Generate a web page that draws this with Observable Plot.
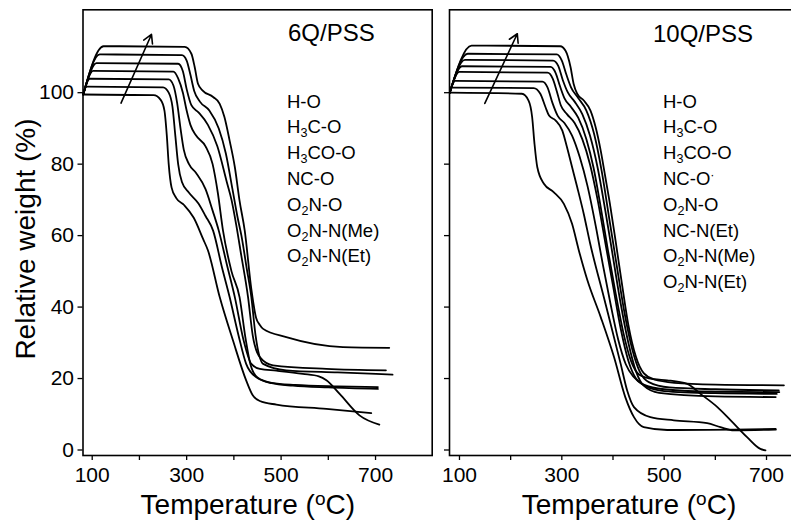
<!DOCTYPE html>
<html><head><meta charset="utf-8">
<script src="https://cdn.jsdelivr.net/npm/d3@7"></script>
<script src="https://cdn.jsdelivr.net/npm/@observablehq/plot@0.6"></script>
<style>
html,body{margin:0;padding:0;background:#fff;overflow:hidden}
#wrap{position:relative;width:791px;height:522px;overflow:hidden;font-family:"Liberation Sans",Arial,Helvetica,sans-serif;color:#000}
.panel{position:absolute;top:0}
.lbl{position:absolute;white-space:nowrap;line-height:1}
.lbl sub{font-size:0.68em;vertical-align:-0.28em;line-height:0}
.lbl sup{font-size:0.68em;vertical-align:0.45em;line-height:0}
</style></head>
<body><div id="wrap"></div>
<script>
// ---- tick values ----
const tempTicks = [100, 200, 300, 400, 500, 600, 700];
const weightTicks = [0, 20, 40, 60, 80, 100];

// ---- titles / legends ----
const titleLeft = "6Q/PSS";
const titleRight = "10Q/PSS";
const labelsLeft = ["H-O", "H<sub>3</sub>C-O", "H<sub>3</sub>CO-O", "NC-O", "O<sub>2</sub>N-O", "O<sub>2</sub>N-N(Me)", "O<sub>2</sub>N-N(Et)"];
const labelsRight = ["H-O", "H<sub>3</sub>C-O", "H<sub>3</sub>CO-O", "NC-O<sup>·</sup>", "O<sub>2</sub>N-O", "NC-N(Et)", "O<sub>2</sub>N-N(Me)", "O<sub>2</sub>N-N(Et)"];
const xTitle = "Temperature (<sup>o</sup>C)";
const yTitle = "Relative weight (%)";

// ---- 6Q/PSS curves [temperature °C, relative weight %] (curves vertically offset) ----
const left1 = [[81,99.5],[230,99.3],[245,98],[253,95],[258,88],[262,80],[268,73.5],[278,70.5],[295,68.5],[315,65],[335,59],[345,55.9],[370,42.8],[398,30.7],[426,19.5],[440,15.3],[455,13.7],[490,12.7],[596,11.5],[691,10.3]];
const left2 = [[81,99.5],[88,101.7],[250,101.5],[262,100],[270,96],[276,88],[282,80],[290,75],[305,72],[325,69],[340,65.5],[356,61.4],[375,51],[391,42.8],[410,32],[426,24.1],[447,20.4],[480,18.7],[525,18],[600,17.5],[705,17.1]];
const left3 = [[81,99.5],[95,103.9],[262,103.7],[272,102],[280,97],[287,90],[294,84],[305,80],[320,77.5],[340,73],[355,67],[368,61.4],[385,52],[402,42.8],[420,31],[437,24.1],[455,22.7],[490,22.2],[546,21.3],[580,20.6],[596,19.5],[624,15.7],[666,9.7],[708,7.1]];
const left4 = [[81,99.5],[102,106.1],[272,105.9],[282,104],[292,100],[300,95],[308,91],[320,88],[340,85],[355,80],[366,72],[377,61.4],[395,50],[412,42.8],[425,31],[435,24],[450,20.3],[480,18.8],[530,18.2],[620,17.8],[705,17.6]];
const left5 = [[81,99.5],[109,108.3],[282,108.1],[292,106],[300,101],[310,96.5],[325,94.5],[345,91],[365,85],[385,75],[395,70],[405,63],[415,55],[430,42.8],[440,32],[455,26],[483,23.7],[596,22.7],[722,22.3]];
const left6 = [[81,99.5],[116,110.7],[290,110.5],[300,109],[308,105],[316,100.5],[328,97.5],[348,95],[368,90],[383,83],[397,73],[408,65],[416,60],[427,51],[437,42.8],[446,32],[462,24.1],[511,22.3],[620,21.7],[736,21.1]];
const left7 = [[81,99.5],[124,113],[296,112.8],[310,110.9],[317,107.2],[324,102.5],[334,100.6],[356,98.8],[370,96.9],[380,93.2],[391,86.6],[402,79.2],[412,69.8],[423,61.4],[437,45],[447,37],[455,35],[462,33.9],[511,31.6],[631,28.8],[729,28.6]];

// ---- 10Q/PSS curves ----
const right1 = [[81,100],[222,99.7],[235,97.8],[242,93.2],[246.6,85.7],[252,79.2],[265,74.5],[284,72.2],[304,68.9],[320,63.3],[333,56],[350,47.5],[376,37.2],[402,26],[424,14.8],[441,9.2],[460,6.4],[506,5.6],[718,5.9]];
const right2 = [[81,100],[85.5,101.4],[245,101.3],[258,99.7],[268,96],[275,93.6],[288,92.2],[301,89.4],[310,84.8],[320,79.2],[330,73.6],[343,66],[355,58],[382,42.8],[415,24.1],[428,16.5],[441,12],[473,9.2],[519,8.3],[584,7.5],[610,6.4],[636,5.5],[718,5.7]];
const right3 = [[81,100],[91.6,103.3],[262,103.1],[272,101.5],[282,97],[292,93.5],[305,91.5],[320,88],[335,82],[350,74],[368,61.4],[380,52],[395,41],[410,31],[425,24],[440,20.5],[460,18.3],[500,17],[600,16.3],[725,16.2]];
const right4 = [[81,100],[99.7,105.8],[272,105.6],[282,104],[290,100.5],[298,96.5],[310,94],[325,91.5],[340,87],[355,80],[370,70],[385,58],[400,46],[415,34],[430,25],[445,20],[465,17.8],[500,16.5],[600,15.9],[720,15.7]];
const right5 = [[81,100],[104.8,107.4],[278,107.2],[288,105.5],[296,102],[305,98.5],[318,96],[332,93],[348,87],[362,79],[376,68],[390,56],[405,44],[420,33],[435,25],[452,21],[480,19.8],[506,19.5],[545,18.5],[571,15.7],[604,12],[630,8.3],[662,3.6],[688,0.3],[698,-0.1]];
const right6 = [[81,100],[110.6,109.2],[283,109],[293,107.5],[302,103.5],[312,100],[325,97.5],[340,94],[355,88],[370,79],[385,67],[400,54],[415,41],[430,30],[445,22],[460,18],[490,16],[600,15],[718,14.8]];
const right7 = [[81,100],[116,110.9],[290,110.7],[300,109],[309,105],[318,101.5],[332,98.5],[348,95],[363,88.5],[378,78],[393,64.5],[408,51],[423,38],[438,28],[452,22],[470,19],[510,17.5],[600,17],[724,16.7]];
const right8 = [[81,100],[123.5,113.2],[297,113],[307,111.8],[317,107.2],[323,102.5],[330,99.7],[343,97.8],[356,95],[366,90.4],[376,83.8],[385,76.4],[395,68],[405,58.6],[418,46],[430,35],[445,26],[460,21.5],[480,19.8],[520,18.8],[600,18.3],[734,18.1]];

// ---- arrows (direction of increasing offset) ----
const arrowLeft = [{x1: 161, y1: 97.1, x2: 225.5, y2: 116.3}];
const arrowRight = [{x1: 149.5, y1: 97, x2: 213, y2: 116.5}];

const leftCurves = [left1, left2, left3, left4, left5, left6, left7];
const rightCurves = [right1, right2, right3, right4, right5, right6, right7, right8];

const FONT = '"Liberation Sans", Arial, Helvetica, sans-serif';
const wrap = document.getElementById("wrap");

function panel({curves, xDomain, width, marginLeft, marginRight, yLabels, arrow}) {
  const rows = curves.flatMap((c, i) => c.map(([t, w]) => ({t, w, s: i})));
  return Plot.plot({
    width, height: 522,
    marginLeft, marginRight, marginTop: 9.3, marginBottom: 67,
    x: {domain: xDomain},
    y: {domain: [-1.54, 123.2]},
    style: {fontFamily: FONT, fontSize: "21px", color: "#000", background: "transparent", overflow: "visible"},
    marks: [
      Plot.frame({stroke: "#000", strokeWidth: 1.6}),
      Plot.axisX({ticks: tempTicks, tickSize: 5, tickPadding: 7, tickFormat: d => (d % 200 === 100 ? String(d) : ""), label: null, fontSize: 21, strokeWidth: 1.3}),
      Plot.axisY({ticks: weightTicks, tickSize: 5, tickPadding: 4, tickFormat: yLabels ? (d => String(d)) : (() => ""), label: null, fontSize: 21, strokeWidth: 1.3}),
      Plot.line(rows, {x: "t", y: "w", z: "s", curve: "monotone-x", stroke: "#000", strokeWidth: 1.8}),
      Plot.arrow(arrow, {x1: "x1", y1: "y1", x2: "x2", y2: "y2", stroke: "#000", strokeWidth: 1.6, headLength: 9})
    ]
  });
}

const pxLeft = 349.2;
const leftPlot = panel({
  curves: leftCurves, xDomain: [80.5, 820], width: 440, marginLeft: 82.5, marginRight: 440 - 82.5 - pxLeft,
  yLabels: true, arrow: arrowLeft
});
leftPlot.classList.add("panel");
leftPlot.style.left = "0px";
wrap.appendChild(leftPlot);

const rightPlot = panel({
  curves: rightCurves, xDomain: [80.5, 762.9], width: 360, marginLeft: 9, marginRight: 360 - 9 - pxLeft,
  yLabels: false, arrow: arrowRight
});
rightPlot.classList.add("panel");
rightPlot.style.left = "440px";
wrap.appendChild(rightPlot);

// ---- HTML text overlays ----
function addText(html, size, left, baseline, extra) {
  const d = document.createElement("div");
  d.className = "lbl";
  d.innerHTML = html;
  d.style.fontSize = size + "px";
  d.style.left = left + "px";
  d.style.top = (baseline - 0.8465 * size) + "px";
  if (extra) Object.assign(d.style, extra);
  wrap.appendChild(d);
  return d;
}
addText(titleLeft, 24, 288, 41.7);
addText(titleRight, 24, 653, 42);
labelsLeft.forEach((l, i) => addText(l, 18.5, 287, 108.3 + 25.8 * i));
labelsRight.forEach((l, i) => addText(l, 18.5, 663, 108.3 + 25.8 * i));

// x titles, centered
[247.8, 629].forEach(cx => {
  addText(xTitle, 28, cx - 150, 515, {width: "300px", textAlign: "center"});
});
// y title, rotated (centre at x≈26, y≈239)
const yt = addText(yTitle, 28, 26.3 - 150, 0, {width: "300px", textAlign: "center", transform: "rotate(-90deg)", transformOrigin: "50% 50%"});
yt.style.top = (239 - 14) + "px";
</script></body></html>
